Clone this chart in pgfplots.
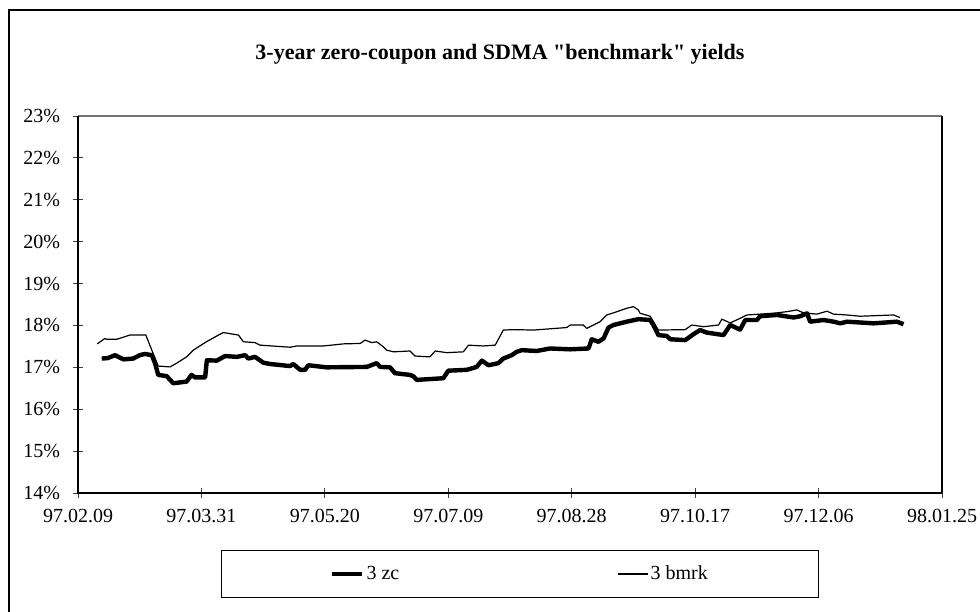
\documentclass[border=0pt]{standalone}
\usepackage{fontspec}
\setmainfont{Liberation Serif}
\usepackage{pgfplots}
\pgfplotsset{compat=1.18}
\usepackage{pgfplotstable}

% day 0 = 97.02.09
\pgfplotstableread{
day yld
9.6 17.21
12 17.22
15 17.29
18.4 17.19
22.4 17.21
25 17.29
27.1 17.32
29.9 17.29
31.2 17.10
32.5 16.82
35.9 16.79
38.6 16.62
44 16.66
46 16.82
47.4 16.76
51.5 16.76
52.2 17.17
56.2 17.16
59.6 17.27
64.3 17.25
67.7 17.29
69 17.21
71.7 17.25
75.1 17.11
77.8 17.08
85.9 17.03
87.2 17.08
90 16.94
92 16.94
93.3 17.05
100.7 17.00
117 17.01
121 17.10
122.4 17.01
126.4 17.00
128.4 16.86
134.5 16.82
136 16.78
137.2 16.70
148 16.74
150 16.92
157.5 16.94
161.5 17.01
163.6 17.16
166.3 17.05
170.3 17.10
172.3 17.21
175.7 17.29
177.7 17.37
179.8 17.41
185.8 17.39
191.2 17.45
199.4 17.43
206.8 17.45
208.1 17.67
210.8 17.61
212.9 17.69
214.9 17.95
216.9 18.01
222.3 18.09
227 18.15
231.8 18.13
233.1 18.01
235.1 17.77
238.5 17.75
239.9 17.67
246 17.65
249.3 17.79
252 17.89
254.7 17.83
261.5 17.77
264.2 18.01
268.2 17.90
270.3 18.13
275 18.13
276.3 18.22
283.1 18.25
289.9 18.19
292.6 18.22
295.3 18.29
296.6 18.09
302 18.13
306.1 18.09
308.8 18.05
311.5 18.09
322.3 18.05
331.7 18.09
334.4 18.03
}\zc

\pgfplotstableread{
day yld
7.8 17.56
10.9 17.69
11.6 17.67
15.7 17.67
18.4 17.72
21 17.77
25.8 17.77
27.5 17.77
29.9 17.41
32.5 17.03
37.3 17.01
40 17.10
44 17.25
46.7 17.41
52 17.61
57.5 17.79
58.9 17.83
65 17.77
67 17.61
71.7 17.59
73.7 17.53
85.9 17.48
88.6 17.51
99.4 17.51
107.5 17.56
114.3 17.57
116.3 17.65
119 17.59
121 17.61
123.7 17.49
125 17.41
127.8 17.37
134.5 17.39
136.5 17.27
142.6 17.25
144.7 17.39
149.4 17.35
156.1 17.37
158.2 17.53
164.2 17.51
169 17.53
172.3 17.89
176.4 17.90
184.5 17.89
198 17.95
199.4 18.01
204.7 18.01
206.1 17.93
211.5 18.09
214.2 18.25
216.9 18.30
222.3 18.41
225 18.45
227 18.37
227.7 18.29
231.8 18.22
235.1 17.89
246 17.90
248.6 18.01
253.4 17.97
259.5 18.01
260.8 18.15
264.2 18.06
268.2 18.17
270.9 18.25
276.3 18.27
283.1 18.30
287.2 18.33
291.2 18.37
293.9 18.30
299.3 18.27
303.4 18.34
306.1 18.27
311.5 18.25
316.9 18.22
330.4 18.25
332.9 18.19
}\bmrk

\begin{document}
\begin{tikzpicture}
\useasboundingbox (0,0) rectangle (490pt,305.5pt);
% chart frame (runs past the page on the right and bottom)
\draw[line width=1.1pt] (4.5pt,-20pt) rectangle (520pt,300.5pt);
\node[font=\fontsize{11}{13}\selectfont\bfseries] at (250pt,278.5pt)
  {3-year zero-coupon and SDMA \textquotedbl benchmark\textquotedbl\ yields};
\begin{axis}[
  at={(39pt,59pt)}, anchor=south west,
  scale only axis, width=432pt, height=188.5pt,
  xmin=0, xmax=350, ymin=14, ymax=23,
  axis line style={draw=none},
  xtick={0,50,...,350},
  xticklabels={97.02.09,97.03.31,97.05.20,97.07.09,97.08.28,97.10.17,97.12.06,98.01.25},
  ytick={14,15,...,23},
  yticklabel={\pgfmathprintnumber{\tick}\%},
  /pgf/number format/assume math mode=true,
  tick align=center, major tick length=5pt,
  tick style={black!75, line width=0.5pt},
  xtick pos=bottom, ytick pos=left,
  ticklabel style={font=\fontsize{10}{12}\selectfont},
  xticklabel style={yshift=-2pt},
  yticklabel style={xshift=-3pt},
  legend style={at={(0.5116,-0.2149)}, anchor=center, draw=black, line width=0.5pt,
    inner xsep=54.5pt, inner ysep=5.5pt,
    font=\fontsize{10}{12}\selectfont,
    nodes={inner xsep=1pt},
    legend columns=2,
    /tikz/every even column/.append style={column sep=108pt}},
  legend image code/.code={\draw[#1] (0pt,0pt) -- (15pt,0pt);},
  clip=false,
]
  % plot area border
  \draw[black!55, line width=0.8pt] (rel axis cs:0,1) -- (rel axis cs:1,1);
  \draw[black, line width=0.6pt] (rel axis cs:1,1) -- (rel axis cs:1,0);
  \draw[black, line width=1pt] (rel axis cs:0,1) -- (rel axis cs:0,0) -- (rel axis cs:1,0);
  \addplot[black, line width=2.2pt, line join=round] table[x=day,y=yld] {\zc};
  \addlegendentry{3 zc}
  \addplot[black, line width=0.6pt, line join=round] table[x=day,y=yld] {\bmrk};
  \addlegendentry{3 bmrk}
\end{axis}
\end{tikzpicture}
\end{document}
